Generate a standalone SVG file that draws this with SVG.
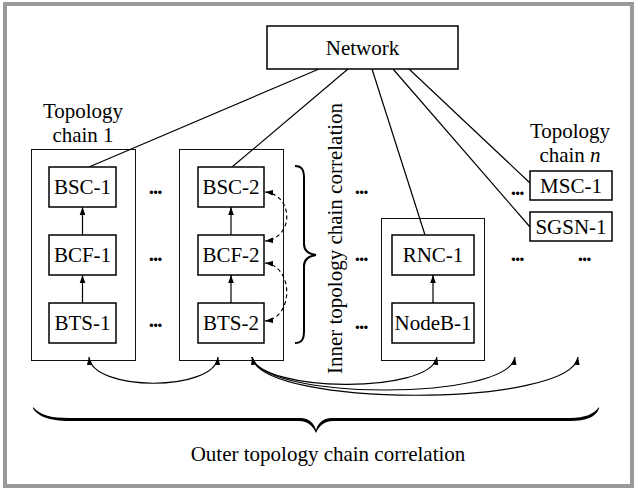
<svg xmlns="http://www.w3.org/2000/svg" width="635" height="488" viewBox="0 0 635 488">
  <style>
    text { font-family: "Liberation Serif", "Times New Roman", serif; font-size: 21px; fill: #000; }
    .c { text-anchor: middle; }
    .dots { font-weight: bold; letter-spacing: -1px; text-anchor: middle; }
    .box { fill: #fff; stroke: #000; stroke-width: 1.5; }
    .chain { fill: none; stroke: #111; stroke-width: 1; }
    .ln { fill: none; stroke: #000; stroke-width: 1.2; }
    .dash { fill: none; stroke: #000; stroke-width: 1.2; stroke-dasharray: 4 3; }
    .brace { fill: none; stroke: #000; stroke-width: 2; }
  </style>
  <defs>
    <marker id="ah" viewBox="0 0 10 10" refX="10" refY="5" markerWidth="8" markerHeight="8" markerUnits="userSpaceOnUse" orient="auto-start-reverse">
      <path d="M0,1.5 L10,5 L0,8.5 Z" fill="#000"/>
    </marker>
  </defs>

  <!-- frame -->
  <rect x="5" y="4" width="627" height="482" fill="#fff" stroke="#999" stroke-width="4"/>

  <!-- chain containers -->
  <g id="chain-1">
    <rect class="chain" x="31.5" y="149.5" width="104" height="211"/>
    <text class="c" x="83" y="118">Topology</text>
    <text class="c" x="83" y="142">chain 1</text>
  </g>
  <g id="chain-2">
    <rect class="chain" x="179.5" y="149.5" width="104" height="211"/>
  </g>
  <g id="chain-3">
    <rect class="chain" x="381.5" y="218.5" width="103" height="142"/>
  </g>
  <g id="chain-n-label">
    <text class="c" x="570" y="138">Topology</text>
    <text class="c" x="570" y="162">chain <tspan font-style="italic">n</tspan></text>
  </g>

  <!-- connectors -->
  <g id="connectors">
    <!-- network links -->
    <line class="ln" x1="319" y1="69" x2="89" y2="167"/>
    <line class="ln" x1="348" y1="69" x2="232" y2="167"/>
    <line class="ln" x1="372" y1="69" x2="425" y2="235"/>
    <line class="ln" x1="393" y1="69" x2="530" y2="227"/>
    <line class="ln" x1="409" y1="69" x2="530" y2="183"/>
    <!-- in-chain uplinks -->
    <line class="ln" x1="82.5" y1="235" x2="82.5" y2="207" marker-end="url(#ah)"/>
    <line class="ln" x1="82.5" y1="303" x2="82.5" y2="275" marker-end="url(#ah)"/>
    <line class="ln" x1="231" y1="235" x2="231" y2="207" marker-end="url(#ah)"/>
    <line class="ln" x1="231" y1="303" x2="231" y2="275" marker-end="url(#ah)"/>
    <line class="ln" x1="433" y1="303" x2="433" y2="275" marker-end="url(#ah)"/>
    <!-- inner correlation (dashed) -->
    <path class="dash" d="M265,192 C294,195 294,238 265,241" marker-start="url(#ah)" marker-end="url(#ah)"/>
    <path class="dash" d="M265,263 C294,266 294,318 265,321" marker-start="url(#ah)" marker-end="url(#ah)"/>
    <!-- outer correlation -->
    <path class="ln" d="M89,357 C92,392 215,392 218,357" marker-start="url(#ah)" marker-end="url(#ah)"/>
    <path class="ln" d="M252,357 C260,392 430,395 437,357" marker-start="url(#ah)" marker-end="url(#ah)"/>
    <path class="ln" d="M252,357 C260,400 508,402 515,357" marker-end="url(#ah)"/>
    <path class="ln" d="M252,357 C260,408 571,408 578,357" marker-end="url(#ah)"/>
  </g>

  <!-- nodes -->
  <g id="network">
    <rect class="box" x="267" y="26" width="191" height="43"/>
    <text class="c" x="362.5" y="55">Network</text>
  </g>
  <g id="bsc-1">
    <rect class="box" x="49" y="167" width="67" height="40"/>
    <text class="c" x="82.5" y="194">BSC-1</text>
  </g>
  <g id="bcf-1">
    <rect class="box" x="49" y="235" width="67" height="40"/>
    <text class="c" x="82.5" y="262">BCF-1</text>
  </g>
  <g id="bts-1">
    <rect class="box" x="49" y="303" width="67" height="40"/>
    <text class="c" x="82.5" y="330">BTS-1</text>
  </g>
  <g id="bsc-2">
    <rect class="box" x="198" y="167" width="66" height="40"/>
    <text class="c" x="231" y="194">BSC-2</text>
  </g>
  <g id="bcf-2">
    <rect class="box" x="198" y="235" width="66" height="40"/>
    <text class="c" x="231" y="262">BCF-2</text>
  </g>
  <g id="bts-2">
    <rect class="box" x="198" y="303" width="66" height="40"/>
    <text class="c" x="231" y="330">BTS-2</text>
  </g>
  <g id="rnc-1">
    <rect class="box" x="392" y="235" width="82" height="40"/>
    <text class="c" x="433" y="262">RNC-1</text>
  </g>
  <g id="nodeb-1">
    <rect class="box" x="392" y="303" width="82" height="40"/>
    <text class="c" x="433" y="330">NodeB-1</text>
  </g>
  <g id="msc-1">
    <rect class="box" x="530" y="171" width="82" height="29"/>
    <text class="c" x="571" y="193">MSC-1</text>
  </g>
  <g id="sgsn-1">
    <rect class="box" x="530" y="212" width="82" height="29"/>
    <text class="c" x="571" y="234">SGSN-1</text>
  </g>

  <!-- ellipses -->
  <g id="ellipses">
    <text class="dots" x="155" y="194">...</text>
    <text class="dots" x="155" y="261">...</text>
    <text class="dots" x="155" y="327">...</text>
    <text class="dots" x="361" y="194">...</text>
    <text class="dots" x="361" y="261">...</text>
    <text class="dots" x="361" y="329">...</text>
    <text class="dots" x="517" y="195">...</text>
    <text class="dots" x="517" y="261">...</text>
    <text class="dots" x="584" y="261">...</text>
  </g>

  <!-- inner correlation brace and label -->
  <g id="inner-correlation">
    <path class="brace" d="M295,166 C302,166 304,170 304,178 L304,244 C304,251 309,254 316,255 C309,256 304,259 304,266 L304,331 C304,339 302,343 295,343"/>
    <text class="c" transform="translate(342,238.5) rotate(-90)">Inner topology chain correlation</text>
  </g>

  <!-- outer correlation brace and label -->
  <g id="outer-correlation">
    <path d="M33,407 C40,415 50,418 70,418 L300,418 C310,418 314,424 316,430 C318,424 322,418 332,418 L570,418 C585,418 594,414 599,407 L599,408.5 C596,417 586,421 570,421 L333,421 C324,421 319,426 316,433 C313,426 308,421 299,421 L70,421 C48,421 38,416 33,408.5 Z" fill="#000"/>
    <text class="c" x="328" y="461">Outer topology chain correlation</text>
  </g>
</svg>
